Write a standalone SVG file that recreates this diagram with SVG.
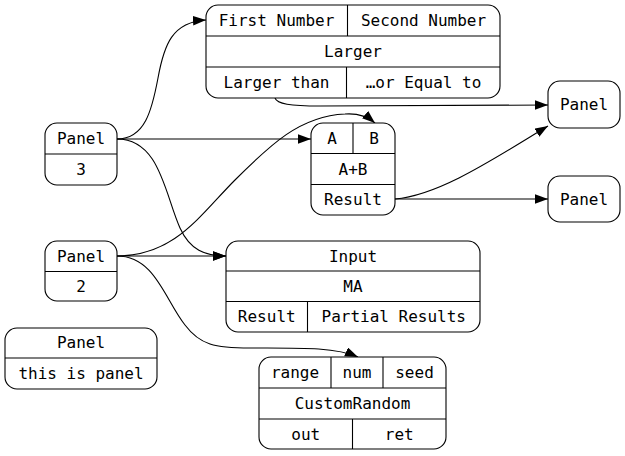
<svg xmlns="http://www.w3.org/2000/svg" width="625" height="456" viewBox="0 0 625 456">
<defs>
<style>
.n rect{fill:#fff;stroke:#000;stroke-width:1.1}
.n line{stroke:#000;stroke-width:1.1}
text{font-family:"DejaVu Sans Mono",monospace;font-size:16px;text-anchor:middle;fill:#000}
.e path{fill:none;stroke:#000;stroke-width:1.1;marker-end:url(#ah)}
</style>
<marker id="ah" markerUnits="userSpaceOnUse" markerWidth="14" markerHeight="10" refX="13" refY="4.75" orient="auto" viewBox="0 0 14 10">
<path d="M0,0 L13,4.75 L0,9.5 z" fill="#000"/>
</marker>
</defs>
<rect width="625" height="456" fill="#fff"/>
<g class="e" id="edges">
<path d="M117,139 C145,139 152,110 158,78 C164,45 172,22 206,20"/>
<path d="M117,139 L311,139"/>
<path d="M117,139 C160,139 165,195 180,228 C190,250 205,256 226,256"/>
<path d="M117,256 L226,256"/>
<path d="M117,256 C175,256 200,215 235,180 C270,145 300,116 345,114 C358,113 368,117 375,123"/>
<path d="M117,256 C155,256 165,300 185,325 C200,345 215,348 250,348 C300,348 335,347 358,357"/>
<path d="M275,98 C277,104 290,106 320,106 C400,106 480,105 548,105"/>
<path d="M395,199 C440,195 495,158 548,126"/>
<path d="M395,199 L548,199"/>
</g>
<g class="n" id="panel3">
<rect x="45" y="123" width="72" height="62" rx="12"/>
<line x1="45" y1="154" x2="117" y2="154"/>
<text x="81" y="144">Panel</text>
<text x="81" y="175">3</text>
</g>
<g class="n" id="panel2">
<rect x="45" y="241" width="72" height="60" rx="12"/>
<line x1="45" y1="271.5" x2="117" y2="271.5"/>
<text x="81" y="261.5">Panel</text>
<text x="81" y="292">2</text>
</g>
<g class="n" id="panelthis">
<rect x="5" y="328" width="152" height="61" rx="12"/>
<line x1="5" y1="358" x2="157" y2="358"/>
<text x="81" y="348">Panel</text>
<text x="81" y="379">this is panel</text>
</g>
<g class="n" id="larger">
<rect x="206" y="5" width="294" height="93" rx="12"/>
<line x1="206" y1="36" x2="500" y2="36"/>
<line x1="206" y1="67" x2="500" y2="67"/>
<line x1="347.5" y1="5" x2="347.5" y2="36"/>
<line x1="346.5" y1="67" x2="346.5" y2="98"/>
<text x="276.5" y="26">First Number</text>
<text x="423.5" y="26">Second Number</text>
<text x="353" y="57">Larger</text>
<text x="276.5" y="88">Larger than</text>
<text x="423.5" y="88">…or Equal to</text>
</g>
<g class="n" id="adder">
<rect x="311" y="123" width="84" height="92" rx="12"/>
<line x1="311" y1="153.5" x2="395" y2="153.5"/>
<line x1="311" y1="184.5" x2="395" y2="184.5"/>
<line x1="353" y1="123" x2="353" y2="153.5"/>
<text x="332" y="144">A</text>
<text x="374" y="144">B</text>
<text x="353" y="174.5">A+B</text>
<text x="353" y="205">Result</text>
</g>
<g class="n" id="panelA">
<rect x="548" y="81" width="72" height="47" rx="12"/>
<text x="584" y="110">Panel</text>
</g>
<g class="n" id="panelB">
<rect x="548" y="176" width="72" height="46" rx="12"/>
<text x="584" y="204.5">Panel</text>
</g>
<g class="n" id="ma">
<rect x="226" y="241" width="254" height="91" rx="12"/>
<line x1="226" y1="271" x2="480" y2="271"/>
<line x1="226" y1="301.5" x2="480" y2="301.5"/>
<line x1="307.5" y1="301.5" x2="307.5" y2="332"/>
<text x="353" y="261.5">Input</text>
<text x="353" y="291.5">MA</text>
<text x="266.75" y="322">Result</text>
<text x="393.75" y="322">Partial Results</text>
</g>
<g class="n" id="random">
<rect x="259" y="357" width="187" height="92" rx="12"/>
<line x1="259" y1="388" x2="446" y2="388"/>
<line x1="259" y1="419" x2="446" y2="419"/>
<line x1="331" y1="357" x2="331" y2="388"/>
<line x1="383" y1="357" x2="383" y2="388"/>
<line x1="352.5" y1="419" x2="352.5" y2="449"/>
<text x="295" y="378">range</text>
<text x="357" y="378">num</text>
<text x="414.5" y="378">seed</text>
<text x="352.5" y="409">CustomRandom</text>
<text x="305.75" y="439.5">out</text>
<text x="399.25" y="439.5">ret</text>
</g>
</svg>
